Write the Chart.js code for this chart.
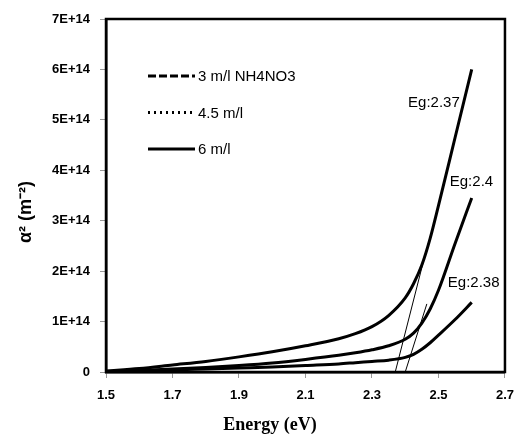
<!DOCTYPE html>
<html>
<head>
<meta charset="utf-8">
<script src="https://cdn.jsdelivr.net/npm/chart.js@4.4.0/dist/chart.umd.min.js"></script>
<style>
  html, body { margin: 0; padding: 0; background: #fff; }
  #wrap { width: 524px; height: 436px; }
</style>
</head>
<body>
<div id="wrap"><canvas id="chart"></canvas></div>
<script>
// photon energy, eV
const energy = [1.5, 1.6, 1.7, 1.8, 1.9, 2.0, 2.1, 2.2, 2.25, 2.3, 2.35, 2.4, 2.425, 2.45, 2.475, 2.5, 2.55, 2.6];
// alpha^2, m^-2
const alpha3 = [0.02e14, 0.07e14, 0.14e14, 0.21e14, 0.30e14, 0.40e14, 0.52e14, 0.66e14, 0.76e14, 0.90e14, 1.12e14, 1.47e14, 1.75e14, 2.12e14, 2.65e14, 3.30e14, 4.65e14, 6.0e14];
const alpha45 = [0.01e14, 0.03e14, 0.06e14, 0.09e14, 0.13e14, 0.18e14, 0.25e14, 0.33e14, 0.38e14, 0.44e14, 0.52e14, 0.65e14, 0.77e14, 0.97e14, 1.25e14, 1.62e14, 2.55e14, 3.45e14];
const alpha6 = [0.01e14, 0.025e14, 0.04e14, 0.06e14, 0.08e14, 0.10e14, 0.13e14, 0.16e14, 0.185e14, 0.21e14, 0.235e14, 0.29e14, 0.35e14, 0.45e14, 0.58e14, 0.73e14, 1.04e14, 1.38e14];
const seriesLabels = ['3 m/l NH4NO3', '4.5 m/l', '6 m/l'];
// band gaps and where the fitted tangents were stopped
const gapValues = [2.37, 2.4, 2.38];
const tangentA = [{ x: 2.37, y: 0 }, { x: 2.455, y: 2.2e14 }];
const tangentB = [{ x: 2.4, y: 0 }, { x: 2.465, y: 1.35e14 }];
const xTicks = [1.5, 1.7, 1.9, 2.1, 2.3, 2.5, 2.7];

const toPoints = ys => energy.map((e, i) => ({ x: e, y: ys[i] }));

const legendDash = [[8, 3], [2, 4], []];
// label anchor in data units: [x, y, align]
const gapLabelAt = [[2.564, 5.34e14, 'right'], [2.534, 3.77e14, 'left'], [2.528, 1.77e14, 'left']];

const extras = {
  id: 'extras',
  afterDraw: chart => {
    const ctx = chart.ctx;
    const area = chart.chartArea;
    const xs = chart.scales.x;
    const ys = chart.scales.y;
    ctx.save();
    // box round the plot
    ctx.strokeStyle = '#000';
    ctx.lineWidth = 2.5;
    ctx.strokeRect(area.left, area.top, area.right - area.left, area.bottom - area.top);

    // legend
    ctx.font = '15px "Liberation Sans"';
    ctx.textBaseline = 'middle';
    ctx.fillStyle = '#000';
    seriesLabels.forEach((lab, i) => {
      const y = 76 + i * 36.5;
      ctx.beginPath();
      ctx.setLineDash(legendDash[i]);
      ctx.lineWidth = 3;
      ctx.moveTo(148, y);
      ctx.lineTo(195, y);
      ctx.stroke();
      ctx.setLineDash([]);
      ctx.textAlign = 'left';
      ctx.fillText(lab, 198, y + 1);
    });

    // Eg labels
    gapValues.forEach((g, i) => {
      const p = gapLabelAt[i];
      ctx.textAlign = p[2];
      ctx.fillText('Eg:' + g, xs.getPixelForValue(p[0]), ys.getPixelForValue(p[1]));
    });

    // axis titles
    ctx.textAlign = 'center';
    ctx.font = 'bold 18px "Liberation Serif"';
    ctx.fillText('Energy (eV)', 270, 425);
    ctx.translate(26, 212);
    ctx.rotate(-Math.PI / 2);
    ctx.font = 'bold 18px "Liberation Sans"';
    ctx.fillText('α² (m⁻²)', 0, 0);
    ctx.restore();
  }
};

const curve = (label, ys) => ({
  label: label,
  data: toPoints(ys),
  borderColor: '#000',
  borderWidth: 3,
  pointRadius: 0,
  cubicInterpolationMode: 'monotone',
  fill: false
});
const tangent = pts => ({
  label: '',
  data: pts,
  borderColor: '#000',
  borderWidth: 1,
  pointRadius: 0,
  fill: false
});

new Chart(document.getElementById('chart'), {
  type: 'line',
  plugins: [extras],
  data: {
    datasets: [
      curve(seriesLabels[0], alpha3),
      curve(seriesLabels[1], alpha45),
      curve(seriesLabels[2], alpha6),
      tangent(tangentA),
      tangent(tangentB)
    ]
  },
  options: {
    responsive: true,
    maintainAspectRatio: false,
    animation: false,
    layout: { padding: { top: 19, right: 13, left: 0, bottom: 0 } },
    plugins: {
      legend: { display: false },
      tooltip: { enabled: false }
    },
    scales: {
      x: {
        type: 'linear',
        min: 1.5,
        max: 2.7,
        afterFit: s => { s.height = 64; },
        afterBuildTicks: s => { s.ticks = xTicks.map(v => ({ value: v })); },
        border: { color: '#000', width: 2.5 },
        grid: { drawOnChartArea: false, color: '#999', tickLength: 6 },
        ticks: {
          color: '#000',
          padding: 10,
          font: { family: 'Liberation Sans', weight: 'bold', size: 13 },
          callback: v => v.toFixed(1)
        }
      },
      y: {
        min: 0,
        max: 7e14,
        afterFit: s => { s.width = 106; },
        border: { color: '#000', width: 2.5 },
        grid: { drawOnChartArea: false, color: '#999', tickLength: 6 },
        ticks: {
          stepSize: 1e14,
          color: '#000',
          padding: 10,
          font: { family: 'Liberation Sans', weight: 'bold', size: 13 },
          callback: v => v === 0 ? '0' : Math.round(v / 1e14) + 'E+14'
        }
      }
    }
  }
});
</script>
</body>
</html>
